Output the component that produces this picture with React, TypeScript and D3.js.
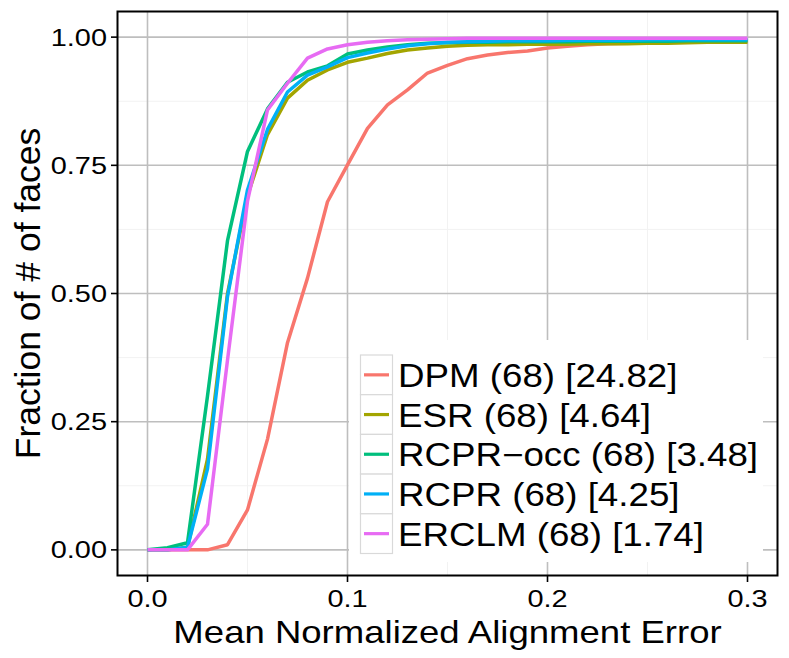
import * as d3 from "d3";

// mean normalized alignment error thresholds, 0 .. 0.3 in steps of 0.01
const errors = [
  0, 0.01, 0.02, 0.03, 0.04, 0.05, 0.06, 0.07, 0.08, 0.09, 0.1, 0.11, 0.12, 0.13, 0.14, 0.15,
  0.16, 0.17, 0.18, 0.19, 0.2, 0.21, 0.22, 0.23, 0.24, 0.25, 0.26, 0.27, 0.28, 0.29, 0.3,
];

const dpm = [
  0, 0, 0, 0, 0.01, 0.078, 0.216, 0.404, 0.53, 0.679, 0.751, 0.822, 0.868, 0.897, 0.93, 0.945,
  0.958, 0.965, 0.97, 0.973, 0.979, 0.982, 0.985, 0.987, 0.988, 0.989, 0.99, 0.99, 0.991, 0.992, 0.992,
];
const esr = [
  0, 0, 0.005, 0.177, 0.5, 0.69, 0.81, 0.881, 0.916, 0.936, 0.951, 0.959, 0.968, 0.975, 0.979, 0.982,
  0.984, 0.985, 0.985, 0.986, 0.986, 0.986, 0.987, 0.987, 0.987, 0.988, 0.988, 0.989, 0.99, 0.99, 0.99,
];
const rcprOcc = [
  0, 0.004, 0.014, 0.3, 0.603, 0.777, 0.86, 0.912, 0.932, 0.944, 0.967, 0.975, 0.981, 0.985, 0.988, 0.989,
  0.99, 0.99, 0.991, 0.991, 0.991, 0.991, 0.992, 0.992, 0.992, 0.992, 0.992, 0.993, 0.993, 0.993, 0.993,
];
const rcpr = [
  0, 0, 0.005, 0.158, 0.494, 0.702, 0.82, 0.893, 0.926, 0.942, 0.96, 0.969, 0.977, 0.983, 0.987, 0.99,
  0.991, 0.992, 0.993, 0.993, 0.993, 0.994, 0.994, 0.994, 0.994, 0.995, 0.995, 0.995, 0.995, 0.995, 0.995,
];
const erclm = [
  0, 0, 0, 0.05, 0.37, 0.68, 0.858, 0.91, 0.959, 0.977, 0.985, 0.99, 0.993, 0.995, 0.996, 0.997,
  0.998, 0.998, 0.998, 0.998, 0.998, 0.998, 0.998, 0.998, 0.998, 0.998, 0.998, 0.998, 0.998, 0.998, 0.998,
];

const seriesNames = [
  "DPM (68) [24.82]",
  "ESR (68) [4.64]",
  "RCPR\u2212occ (68) [3.48]",
  "RCPR (68) [4.25]",
  "ERCLM (68) [1.74]",
];
const seriesValues = [dpm, esr, rcprOcc, rcpr, erclm];
const colors = ["#F8766D", "#A3A500", "#00BF7D", "#00B0F6", "#E76BF3"];

const xTicks = [0, 0.1, 0.2, 0.3];
const xMinor = [0.05, 0.15, 0.25];
const yTicks = [0, 0.25, 0.5, 0.75, 1];
const yMinor = [0.125, 0.375, 0.625, 0.875];

const W = 789;
const H = 658;
const panel = { left: 117.5, right: 777.5, top: 11.5, bottom: 575.5 };
const FONT = "'Liberation Sans', Arial, Helvetica, sans-serif";
const SX = 1.18; // text in the source is a little wide

export default function App() {
  const x = d3.scaleLinear().domain([-0.015, 0.315]).range([panel.left, panel.right]);
  const y = d3.scaleLinear().domain([-0.05, 1.05]).range([panel.bottom, panel.top]);

  const line = d3
    .line<number>()
    .x((_, i) => x(errors[i]))
    .y((d) => y(d));

  const fmtY = d3.format(".2f");
  const fmtX = d3.format(".1f");

  // legend layout
  const lg = { x: 349, y: 340, w: 414, h: 222, keyX: 360.5, keyY: 355, keyW: 32, keyH: 39.7 };

  return (
    <svg
      width={W}
      height={H}
      style={{ position: "absolute", left: 0, top: 0, background: "#fff" }}
      fontFamily={FONT}
    >
      <rect x={0} y={0} width={W} height={H} fill="#fff" />

      {/* minor grid */}
      {xMinor.map((t) => (
        <line key={`xm${t}`} x1={x(t)} x2={x(t)} y1={panel.top} y2={panel.bottom} stroke="#f2f2f2" strokeWidth={1} />
      ))}
      {yMinor.map((t) => (
        <line key={`ym${t}`} x1={panel.left} x2={panel.right} y1={y(t)} y2={y(t)} stroke="#f2f2f2" strokeWidth={1} />
      ))}
      {/* major grid */}
      {xTicks.map((t) => (
        <line key={`xg${t}`} x1={x(t)} x2={x(t)} y1={panel.top} y2={panel.bottom} stroke="#bebebe" strokeWidth={1.6} />
      ))}
      {yTicks.map((t) => (
        <line key={`yg${t}`} x1={panel.left} x2={panel.right} y1={y(t)} y2={y(t)} stroke="#bebebe" strokeWidth={1.6} />
      ))}

      {/* curves */}
      {seriesValues.map((vals, i) => (
        <path
          key={seriesNames[i]}
          d={line(vals) ?? ""}
          fill="none"
          stroke={colors[i]}
          strokeWidth={3.5}
          strokeLinejoin="round"
        />
      ))}

      {/* legend */}
      <rect x={lg.x} y={lg.y} width={lg.w} height={lg.h} fill="#fff" />
      {seriesNames.map((name, i) => {
        const ky = lg.keyY + i * lg.keyH;
        return (
          <g key={`lg${i}`}>
            <rect x={lg.keyX} y={ky} width={lg.keyW} height={lg.keyH} fill="#fff" stroke="#d9d9d9" strokeWidth={1.2} />
            <line
              x1={lg.keyX + 3.5}
              x2={lg.keyX + lg.keyW - 3.5}
              y1={ky + lg.keyH / 2}
              y2={ky + lg.keyH / 2}
              stroke={colors[i]}
              strokeWidth={3.2}
            />
            <text transform={`translate(398,${ky + lg.keyH / 2 + 12}) scale(${1.13},1)`} fontSize={32.5} fill="#000">
              {name}
            </text>
          </g>
        );
      })}

      {/* panel border */}
      <rect
        x={panel.left}
        y={panel.top}
        width={panel.right - panel.left}
        height={panel.bottom - panel.top}
        fill="none"
        stroke="#000"
        strokeWidth={2}
      />

      {/* y axis */}
      {yTicks.map((t) => (
        <g key={`yt${t}`}>
          <line x1={panel.left - 6.5} x2={panel.left} y1={y(t)} y2={y(t)} stroke="#000" strokeWidth={1.6} />
          <text
            transform={`translate(107,${y(t) + 8.5}) scale(${SX},1)`}
            fontSize={24.5}
            textAnchor="end"
            fill="#000"
          >
            {fmtY(t)}
          </text>
        </g>
      ))}

      {/* x axis */}
      {xTicks.map((t) => (
        <g key={`xt${t}`}>
          <line x1={x(t)} x2={x(t)} y1={panel.bottom} y2={panel.bottom + 6.5} stroke="#000" strokeWidth={1.6} />
          <text
            transform={`translate(${x(t)},607) scale(${SX},1)`}
            fontSize={24.5}
            textAnchor="middle"
            fill="#000"
          >
            {fmtX(t)}
          </text>
        </g>
      ))}

      {/* axis titles */}
      <text
        transform={`translate(${(panel.left + panel.right) / 2},643) scale(${SX - 0.02},1)`}
        fontSize={31.5}
        textAnchor="middle"
        fill="#000"
      >
        Mean Normalized Alignment Error
      </text>
      <text
        transform={`translate(40,${(panel.top + panel.bottom) / 2}) rotate(-90)`}
        fontSize={35.5}
        textAnchor="middle"
        fill="#000"
      >
        Fraction of # of faces
      </text>
    </svg>
  );
}
